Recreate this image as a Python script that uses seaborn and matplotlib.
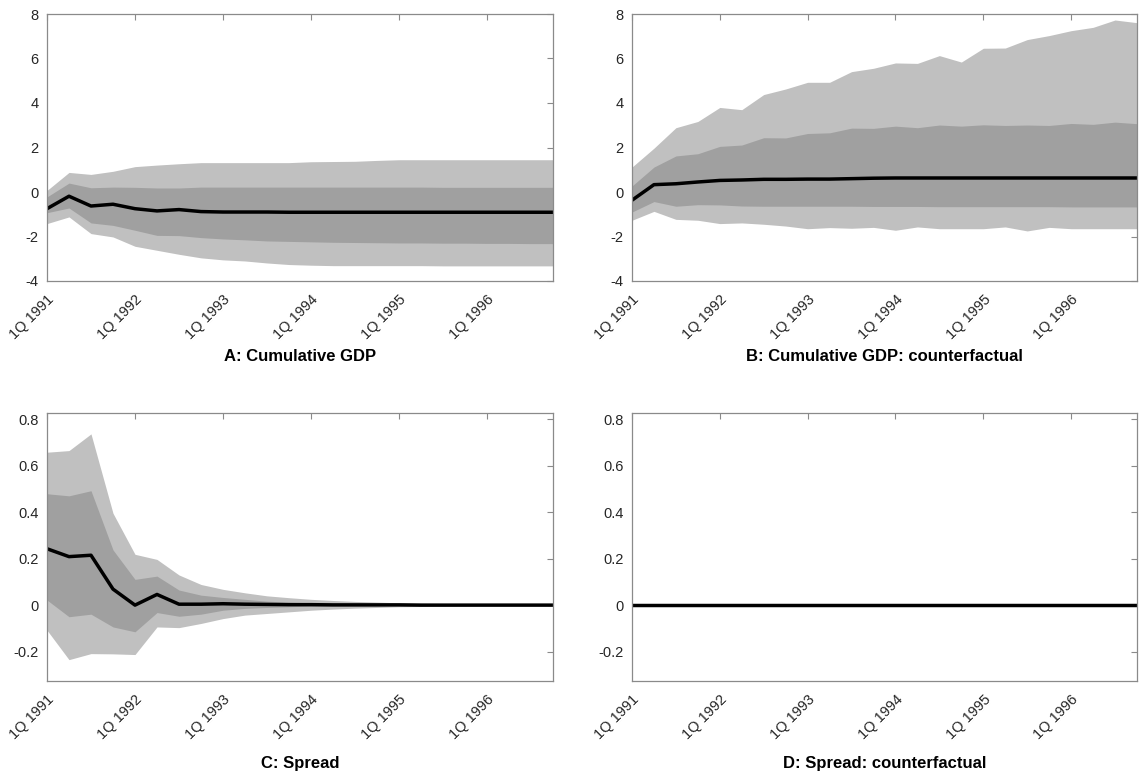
import numpy as np
import pandas as pd
import matplotlib
matplotlib.use("Agg")
import matplotlib.pyplot as plt
import seaborn as sns

# Quarterly horizon, 1Q 1991 .. 4Q 1996
quarters = list(range(24))
tick_pos = [0, 4, 8, 12, 16, 20]
tick_labels = ["1Q 1991", "1Q 1992", "1Q 1993", "1Q 1994", "1Q 1995", "1Q 1996"]

# A: Cumulative GDP
gdp_median = [-0.75, -0.19, -0.63, -0.55, -0.75, -0.85, -0.79, -0.88, -0.90, -0.90, -0.90, -0.91,
              -0.91, -0.91, -0.91, -0.91, -0.91, -0.91, -0.91, -0.91, -0.91, -0.91, -0.91, -0.91]
gdp_in_hi = [-0.22, 0.40, 0.19, 0.22, 0.21, 0.18, 0.18, 0.22, 0.22, 0.22, 0.22, 0.22,
             0.22, 0.22, 0.22, 0.22, 0.22, 0.22, 0.21, 0.21, 0.21, 0.21, 0.21, 0.21]
gdp_in_lo = [-0.93, -0.72, -1.39, -1.50, -1.72, -1.95, -1.96, -2.05, -2.11, -2.15, -2.20, -2.22,
             -2.24, -2.26, -2.27, -2.28, -2.29, -2.29, -2.30, -2.30, -2.31, -2.31, -2.32, -2.32]
gdp_out_hi = [0.07, 0.88, 0.79, 0.93, 1.14, 1.21, 1.27, 1.32, 1.32, 1.32, 1.32, 1.32,
              1.36, 1.37, 1.38, 1.42, 1.45, 1.45, 1.45, 1.45, 1.45, 1.45, 1.45, 1.45]
gdp_out_lo = [-1.42, -1.12, -1.87, -2.02, -2.44, -2.62, -2.80, -2.96, -3.05, -3.10, -3.19, -3.26,
              -3.29, -3.31, -3.31, -3.31, -3.31, -3.31, -3.32, -3.32, -3.32, -3.32, -3.32, -3.32]

# B: Cumulative GDP, counterfactual
cf_median = [-0.37, 0.33, 0.37, 0.45, 0.52, 0.54, 0.57, 0.57, 0.58, 0.58, 0.60, 0.62,
             0.63, 0.63, 0.63, 0.63, 0.63, 0.63, 0.63, 0.63, 0.63, 0.63, 0.63, 0.63]
cf_in_hi = [0.27, 1.12, 1.62, 1.72, 2.05, 2.11, 2.44, 2.43, 2.63, 2.66, 2.87, 2.86,
            2.96, 2.89, 3.01, 2.96, 3.02, 2.99, 3.01, 2.99, 3.08, 3.04, 3.14, 3.07]
cf_in_lo = [-0.90, -0.43, -0.64, -0.57, -0.58, -0.63, -0.64, -0.64, -0.64, -0.64, -0.64, -0.65,
            -0.65, -0.65, -0.66, -0.66, -0.66, -0.66, -0.66, -0.66, -0.67, -0.67, -0.67, -0.67]
cf_out_hi = [1.12, 1.97, 2.89, 3.17, 3.80, 3.70, 4.38, 4.63, 4.93, 4.93, 5.41, 5.56,
             5.80, 5.78, 6.13, 5.84, 6.46, 6.47, 6.85, 7.03, 7.25, 7.40, 7.73, 7.61]
cf_out_lo = [-1.27, -0.87, -1.23, -1.27, -1.42, -1.39, -1.45, -1.53, -1.65, -1.60, -1.63, -1.59,
             -1.72, -1.57, -1.65, -1.65, -1.65, -1.57, -1.75, -1.59, -1.65, -1.65, -1.65, -1.65]

# C: Spread
sp_median = [0.243, 0.209, 0.215, 0.069, 0.000, 0.046, 0.004, 0.004, 0.006, 0.004, 0.003, 0.002,
             0.002, 0.001, 0.001, 0.001, 0.001, 0.000, 0.000, 0.000, 0.000, 0.000, 0.000, 0.000]
sp_in_hi = [0.480, 0.471, 0.493, 0.238, 0.111, 0.125, 0.065, 0.043, 0.033, 0.025, 0.017, 0.013,
            0.010, 0.007, 0.006, 0.005, 0.004, 0.003, 0.002, 0.002, 0.001, 0.001, 0.001, 0.001]
sp_in_lo = [0.022, -0.050, -0.039, -0.094, -0.115, -0.032, -0.048, -0.039, -0.022, -0.014, -0.010, -0.007,
            -0.004, -0.003, -0.002, -0.002, -0.001, -0.001, -0.001, 0.000, 0.000, 0.000, 0.000, 0.000]
sp_out_hi = [0.659, 0.666, 0.738, 0.396, 0.219, 0.197, 0.130, 0.089, 0.068, 0.053, 0.040, 0.032,
             0.025, 0.020, 0.016, 0.013, 0.010, 0.008, 0.007, 0.006, 0.005, 0.004, 0.003, 0.003]
sp_out_lo = [-0.108, -0.235, -0.209, -0.210, -0.213, -0.094, -0.097, -0.079, -0.058, -0.043, -0.036, -0.029,
             -0.022, -0.017, -0.013, -0.010, -0.007, -0.006, -0.004, -0.003, -0.002, -0.002, -0.001, -0.001]

# D: Spread, counterfactual (held at zero)
spcf_median = [0.0] * 24

titles = ["A: Cumulative GDP", "B: Cumulative GDP: counterfactual",
          "C: Spread", "D: Spread: counterfactual"]

sns.set_theme(style="white")
plt.rcParams["font.family"] = ["Liberation Sans", "DejaVu Sans"]

LIGHT = "#c0c0c0"
DARK = "#a0a0a0"
AXIS = "#8a8a8a"
TEXT = "#262626"

fig = plt.figure(figsize=(11.4, 7.76), dpi=100)
W, H = 1140, 776


def make_ax(left, right, top, bottom):
    return fig.add_axes([left / W, 1 - bottom / H, (right - left) / W, (bottom - top) / H])


axA = make_ax(47, 553, 14, 281)
axB = make_ax(632, 1137, 14, 281)
axC = make_ax(47, 553, 413, 681)
axD = make_ax(632, 1137, 413, 681)

panels = [
    (axA, gdp_median, (gdp_out_lo, gdp_out_hi), (gdp_in_lo, gdp_in_hi), (-4, 8), [-4, -2, 0, 2, 4, 6, 8], 5),
    (axB, cf_median, (cf_out_lo, cf_out_hi), (cf_in_lo, cf_in_hi), (-4, 8), [-4, -2, 0, 2, 4, 6, 8], 5),
    (axC, sp_median, (sp_out_lo, sp_out_hi), (sp_in_lo, sp_in_hi), (-0.327, 0.828), [-0.2, 0, 0.2, 0.4, 0.6, 0.8], 10),
    (axD, spcf_median, None, None, (-0.327, 0.828), [-0.2, 0, 0.2, 0.4, 0.6, 0.8], 10),
]

for (ax, med, outer, inner, ylim, yticks, lpad), title in zip(panels, titles):
    if outer is not None:
        ax.fill_between(quarters, outer[0], outer[1], color=LIGHT, linewidth=0)
    if inner is not None:
        ax.fill_between(quarters, inner[0], inner[1], color=DARK, linewidth=0)
    df = pd.DataFrame({"quarter": quarters, "value": med})
    sns.lineplot(data=df, x="quarter", y="value", ax=ax, color="black", linewidth=2.5)
    ax.set_xlim(0, 23)
    ax.set_ylim(*ylim)
    ax.set_yticks(yticks)
    ax.set_yticklabels([f"{t:g}" for t in yticks])
    ax.set_xticks(tick_pos)
    ax.set_xticklabels(tick_labels, rotation=45, ha="right", rotation_mode="anchor")
    ax.set_ylabel("")
    ax.set_xlabel(title, fontsize=12, fontweight="bold", color="black", labelpad=lpad)
    ax.tick_params(axis="both", direction="in", length=4, width=0.8, color=AXIS,
                   labelsize=10.5, labelcolor=TEXT, top=True, right=True)
    ax.tick_params(axis="x", pad=8)
    ax.tick_params(axis="y", pad=6)
    for s in ax.spines.values():
        s.set_visible(True)
        s.set_color(AXIS)
        s.set_linewidth(0.9)

fig.savefig("out.png", dpi=100)
